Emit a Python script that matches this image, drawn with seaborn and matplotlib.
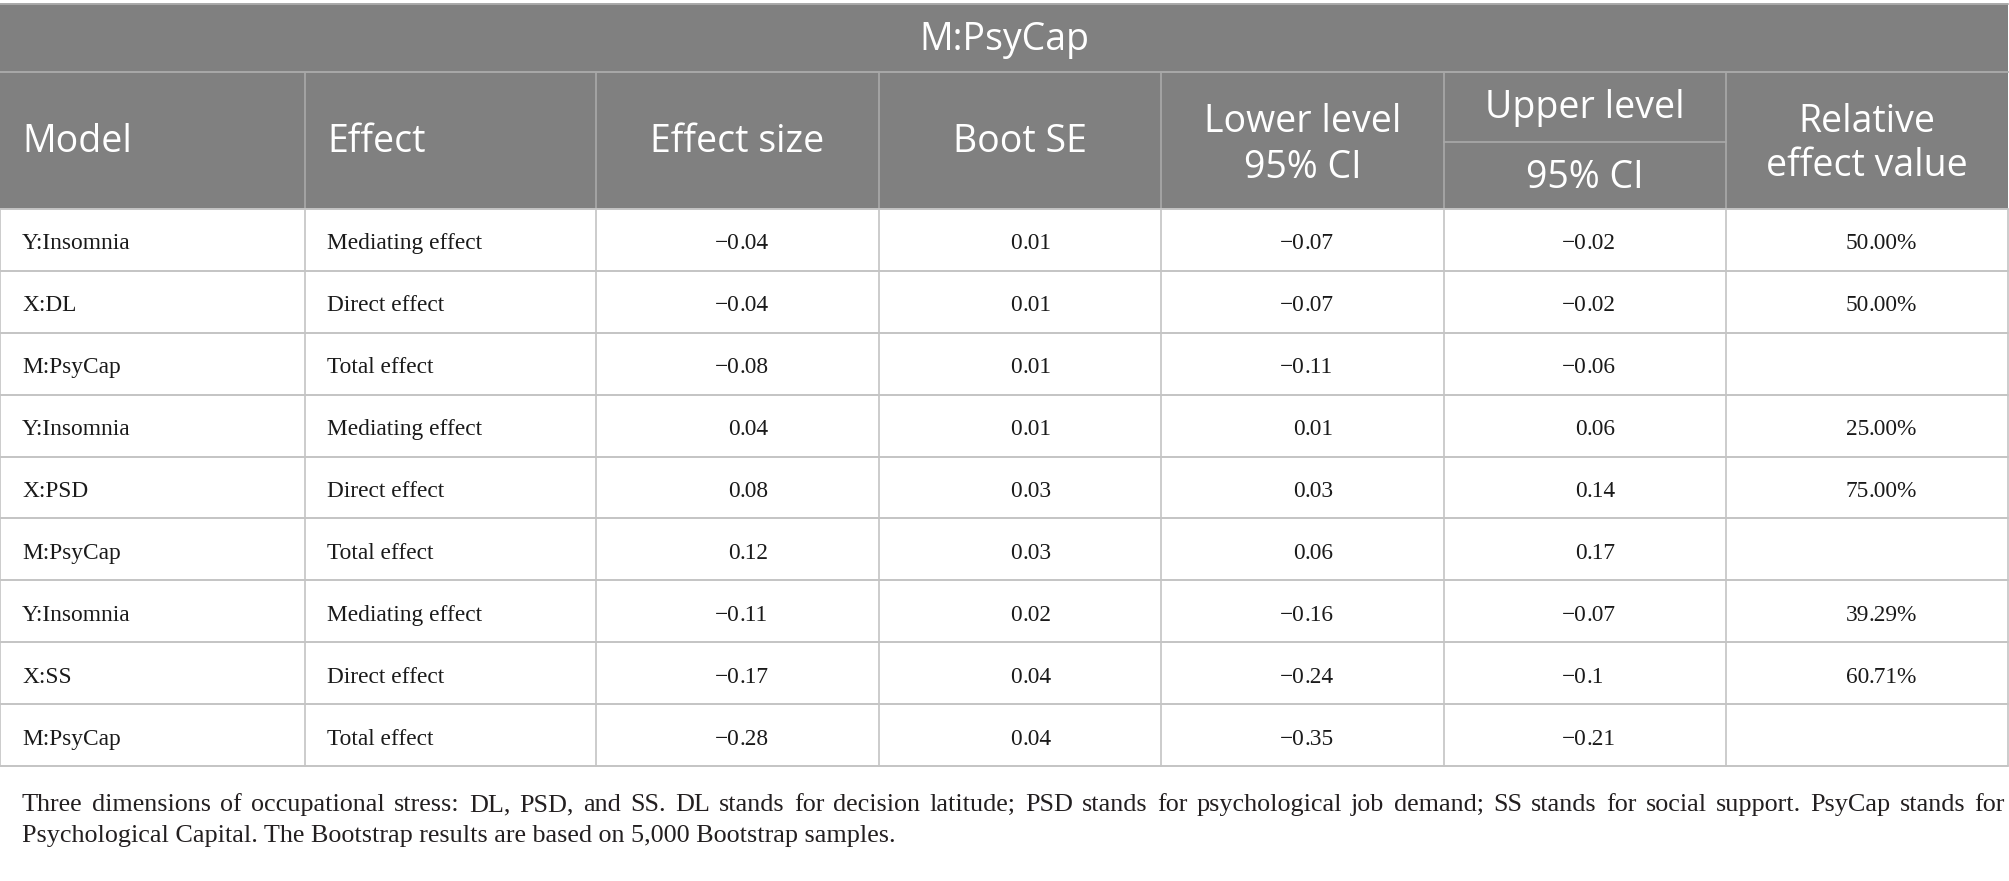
import matplotlib
matplotlib.use("Agg")
import matplotlib.pyplot as plt
import seaborn as sns

sns.set_theme(style="white")

# table content
title = "M:PsyCap"
models = ["Y:Insomnia", "X:DL", "M:PsyCap",
          "Y:Insomnia", "X:PSD", "M:PsyCap",
          "Y:Insomnia", "X:SS", "M:PsyCap"]
effects = ["Mediating effect", "Direct effect", "Total effect"] * 3
effect_size = ["\u22120.04", "\u22120.04", "\u22120.08",
               "0.04", "0.08", "0.12",
               "\u22120.11", "\u22120.17", "\u22120.28"]
boot_se = ["0.01", "0.01", "0.01", "0.01", "0.03", "0.03", "0.02", "0.04", "0.04"]
lower_ci = ["\u22120.07", "\u22120.07", "\u22120.11",
            "0.01", "0.03", "0.06",
            "\u22120.16", "\u22120.24", "\u22120.35"]
upper_ci = ["\u22120.02", "\u22120.02", "\u22120.06",
            "0.06", "0.14", "0.17",
            "\u22120.07", "\u22120.1", "\u22120.21"]
relative = ["50.00%", "50.00%", "", "25.00%", "75.00%", "", "39.29%", "60.71%", ""]
caption_lines = [
    "Three dimensions of occupational stress: DL, PSD, and SS. DL stands for decision latitude; "
    "PSD stands for psychological job demand; SS stands for social support. PsyCap stands for",
    "Psychological Capital. The Bootstrap results are based on 5,000 Bootstrap samples.",
]

# layout (pixels)
W, H = 2009, 881
col_edges = [0, 305, 596, 879, 1161, 1444, 1726, 2008]
top, title_bot, split_y, head_bot = 4, 72, 142, 209
row_h = (766 - head_bot) / 9
header_grey = "#808080"
line_grey = "#c4c4c4"
head_line = "#a9a9a9"

fig = plt.figure(figsize=(W / 100, H / 100), dpi=100)
ax = fig.add_axes([0, 0, 1, 1])
ax.set_xlim(0, W)
ax.set_ylim(H, 0)
ax.axis("off")

# header background
ax.add_patch(plt.Rectangle((0, top), col_edges[-1], head_bot - top,
                           color=header_grey, lw=0, zorder=0))

hfont = dict(family=["Open Sans", "DejaVu Sans"], color="white", fontsize=27)
dfont = dict(family=["Liberation Serif", "DejaVu Serif"], color="#1a1a1a", fontsize=16.8)
cfont = dict(family=["Liberation Serif", "DejaVu Serif"], color="#231f20", fontsize=18.8)

ax.text(W / 2, (top + title_bot) / 2 + 2, title, ha="center", va="center", **hfont)

# header lines
ax.plot([0, col_edges[-1]], [top, top], color=head_line, lw=1.4, zorder=2)
ax.plot([0, col_edges[-1]], [title_bot, title_bot], color=head_line, lw=1.4, zorder=2)
for x in col_edges[1:-1]:
    ax.plot([x, x], [title_bot, head_bot], color=head_line, lw=1.2, zorder=2)
ax.plot([col_edges[5], col_edges[6]], [split_y, split_y], color=head_line, lw=1.2, zorder=2)

hc = (title_bot + head_bot) / 2 + 2
ax.text(col_edges[0] + 22, hc, "Model", ha="left", va="center", **hfont)
ax.text(col_edges[1] + 22, hc, "Effect", ha="left", va="center", **hfont)
ax.text((col_edges[2] + col_edges[3]) / 2, hc, "Effect size", ha="center", va="center", **hfont)
ax.text((col_edges[3] + col_edges[4]) / 2, hc, "Boot SE", ha="center", va="center", **hfont)
ax.text((col_edges[4] + col_edges[5]) / 2, hc - 21, "Lower level", ha="center", va="center", **hfont)
ax.text((col_edges[4] + col_edges[5]) / 2, hc + 25, "95% CI", ha="center", va="center", **hfont)
ax.text((col_edges[5] + col_edges[6]) / 2, (title_bot + split_y) / 2 + 1, "Upper level",
        ha="center", va="center", **hfont)
ax.text((col_edges[5] + col_edges[6]) / 2, (split_y + head_bot) / 2 + 2, "95% CI",
        ha="center", va="center", **hfont)
ax.text((col_edges[6] + col_edges[7]) / 2, hc - 21, "Relative", ha="center", va="center", **hfont)
ax.text((col_edges[6] + col_edges[7]) / 2, hc + 23, "effect value", ha="center", va="center", **hfont)

# body grid
body_bot = head_bot + 9 * row_h
for i in range(10):
    y = head_bot + i * row_h
    ax.plot([0, col_edges[-1]], [y, y], color=line_grey, lw=1.4, zorder=2)
for x in col_edges:
    ax.plot([x, x], [head_bot, body_bot], color=line_grey, lw=1.2, zorder=2)


def decimal_text(x, y, s):
    # align numbers on the decimal point
    if not s:
        return
    left, right = s.split(".")
    ax.text(x, y, left, ha="right", va="center", **dfont)
    ax.text(x, y, "." + right, ha="left", va="center", **dfont)


num_cols = [effect_size, boot_se, lower_ci, upper_ci, relative]
for i in range(9):
    yc = head_bot + (i + 0.5) * row_h + 4
    ax.text(col_edges[0] + 22, yc, models[i], ha="left", va="center", **dfont)
    ax.text(col_edges[1] + 22, yc, effects[i], ha="left", va="center", **dfont)
    for j, vals in enumerate(num_cols):
        xc = (col_edges[j + 2] + col_edges[j + 3]) / 2
        decimal_text(xc + 2, yc, vals[i])

# caption: first line justified to the table width
renderer = fig.canvas.get_renderer()
words = caption_lines[0].split(" ")
word_w = []
for w in words:
    t = ax.text(0, 0, w, **cfont)
    word_w.append(t.get_window_extent(renderer).width)
    t.remove()
left_x, right_x = 22, 2005
gap = (right_x - left_x - sum(word_w)) / (len(words) - 1)
x = left_x
for w, ww in zip(words, word_w):
    ax.text(x, 805, w, ha="left", va="center", **cfont)
    x += ww + gap
ax.text(left_x, 836, caption_lines[1], ha="left", va="center", **cfont)

fig.savefig("out.png", dpi=100)
